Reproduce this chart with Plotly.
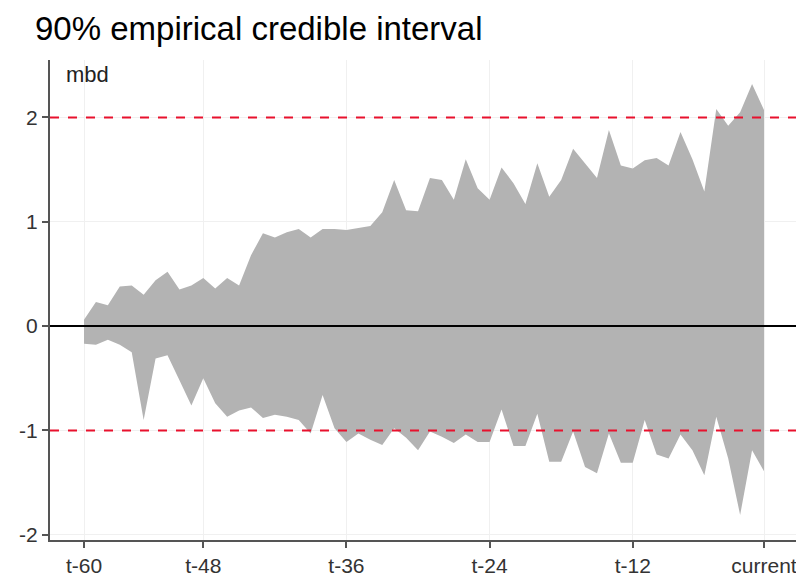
import plotly.graph_objects as go

# index of each month (0 = t-60 ... 57 = current)
months = list(range(58))
upper = [0.06, 0.23, 0.20, 0.38, 0.39, 0.30, 0.44, 0.52, 0.35, 0.39,
         0.46, 0.36, 0.46, 0.39, 0.68, 0.89, 0.85, 0.90, 0.93, 0.85,
         0.93, 0.93, 0.92, 0.94, 0.96, 1.09, 1.40, 1.11, 1.10, 1.42,
         1.40, 1.21, 1.60, 1.32, 1.21, 1.52, 1.37, 1.17, 1.56, 1.24,
         1.40, 1.70, 1.56, 1.42, 1.88, 1.54, 1.51, 1.59, 1.61, 1.54,
         1.86, 1.60, 1.29, 2.08, 1.92, 2.05, 2.32, 2.07]
lower = [-0.17, -0.18, -0.13, -0.18, -0.25, -0.90, -0.31, -0.28, -0.52, -0.76,
         -0.50, -0.74, -0.87, -0.81, -0.78, -0.88, -0.85, -0.87, -0.90, -1.03,
         -0.66, -0.98, -1.11, -1.03, -1.09, -1.14, -0.98, -1.07, -1.19, -1.01,
         -1.06, -1.12, -1.04, -1.11, -1.11, -0.80, -1.15, -1.15, -0.84, -1.30,
         -1.30, -1.01, -1.35, -1.41, -1.03, -1.31, -1.31, -0.90, -1.23, -1.27,
         -1.04, -1.19, -1.43, -0.87, -1.27, -1.81, -1.19, -1.39]
tick_pos = [0, 10, 22, 34, 46, 57]
tick_text = ["t-60", "t-48", "t-36", "t-24", "t-12", "current"]
y_ticks = [-2, -1, 0, 1, 2]
y_tick_text = ["-2", "-1", "0", "1", "2"]
ref_lines = [2, -1]

# page body has an 8px default margin, so the figure is drawn 8px smaller
W, H, OFF = 796, 568, 8

fig = go.Figure()
fig.add_trace(go.Scatter(x=months, y=lower, mode="lines", line=dict(width=0),
                         showlegend=False, hoverinfo="skip"))
fig.add_trace(go.Scatter(x=months, y=upper, mode="lines", line=dict(width=0),
                         fill="tonexty", fillcolor="#B3B3B3",
                         showlegend=False, hoverinfo="skip"))

for v in ref_lines:
    fig.add_hline(y=v, line=dict(color="#E8112D", width=2, dash="dash"))
fig.add_hline(y=0, line=dict(color="black", width=2))

axis_common = dict(showgrid=True, gridcolor="#F0F0F0",
                   showline=True, linecolor="#555555", linewidth=2,
                   ticks="outside", ticklen=6, tickcolor="#555555", tickwidth=2,
                   zeroline=False, automargin=False,
                   tickfont=dict(size=21, color="#333333"))

fig.update_layout(
    width=W, height=H,
    margin=dict(l=50 - OFF, r=6, t=60 - OFF, b=36, autoexpand=False),
    paper_bgcolor="white", plot_bgcolor="white",
    font=dict(family="Liberation Sans, Arial, sans-serif", color="#333333", size=20),
    title=dict(text="90% empirical credible interval",
               x=(35 - OFF) / W, xanchor="left",
               y=1 - (28 - OFF) / H, yanchor="middle",
               font=dict(size=33, color="black")),
    xaxis=dict(range=[-2.85, 59.85], tickmode="array", tickvals=tick_pos,
               ticktext=tick_text, ticklabelstandoff=0, **axis_common),
    yaxis=dict(range=[-2.05, 2.55], tickmode="array", tickvals=y_ticks,
               ticktext=y_tick_text, **axis_common),
)
fig.update_layout(title_xref="container", title_yref="container")
fig.add_annotation(text="mbd", xref="paper", yref="paper", x=(64 - 50) / 748,
                   y=1.0, xanchor="left", yanchor="top", showarrow=False,
                   font=dict(size=22, color="#222222"))

fig.write_html("out.html")
